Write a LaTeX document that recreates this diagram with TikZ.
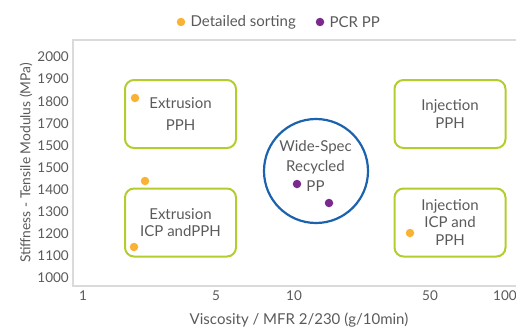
\documentclass[tikz,border=0pt]{standalone}
\usepackage{fontspec}
\setmainfont{Lato}
\usepackage{xcolor}
\usetikzlibrary{positioning}
\definecolor{textc}{HTML}{5A5A5A}
\definecolor{framec}{HTML}{DADADA}
\definecolor{limec}{HTML}{B5CC2E}
\definecolor{bluec}{HTML}{1B63AE}
\definecolor{sortc}{HTML}{F9B233}
\definecolor{pcrc}{HTML}{7A2A8C}
\tikzset{
  labeltext/.style={text=textc, font=\fontsize{15}{18}\selectfont, inner sep=0pt},
  ticktext/.style={labeltext, font=\fontsize{13.5}{16}\selectfont},
  areabox/.style={rectangle, rounded corners=9pt, draw=limec, line width=2pt,
    minimum width=111pt, minimum height=68pt, align=center, text=textc,
    font=\fontsize{15}{18}\selectfont},
  widecircle/.style={circle, draw=bluec, line width=2.2pt, minimum size=104pt},
  sortdot/.style={circle, fill=sortc, inner sep=0pt, minimum size=8.5pt},
  pcrdot/.style={circle, fill=pcrc, inner sep=0pt, minimum size=8.5pt},
  axisline/.style={draw=framec, line width=1.2pt},
}
\begin{document}
\begin{tikzpicture}[x=1pt, y=-1pt]
  \useasboundingbox (0,0) rectangle (516,329);
  % legend
  \node[sortdot] (legsort) at (181,22) {};
  \node[labeltext, anchor=west, right=5pt of legsort] (legsorttxt) {Detailed sorting};
  \node[pcrdot] (legpcr) at (320,22) {};
  \node[labeltext, anchor=west, right=5pt of legpcr] (legpcrtxt) {PCR PP};
  % frame
  \coordinate (topright) at (516,40);
  \coordinate (origin) at (73,286);
  \coordinate (axisend) at (516,286);
  \draw[axisline] (topright) -- (73,40) -- (origin) -- (axisend);
  % y ticks
  \foreach \lbl [count=\i from 0] in {2000,1900,1800,1700,1500,1500,1400,1300,1200,1100,1000}
    \node[ticktext, anchor=east] (ytick\i) at (69,57+22.1*\i) {\lbl};
  % x ticks
  \node[ticktext] (xtick1) at (83,296) {1};
  \node[ticktext] (xtick5) at (216,296) {5};
  \node[ticktext] (xtick10) at (294,296) {10};
  \node[ticktext] (xtick50) at (430,296) {50};
  \node[ticktext, anchor=west] (xtick100) at (493,296) {100};
  % axis titles
  \node[labeltext, rotate=90, font=\fontsize{13.8}{16}\selectfont] (ytitle) at (26,163) {Stiffness - Tensile Modulus (MPa)};
  \node[labeltext] (xtitle) at (299,320) {Viscosity / MFR 2/230 (g/10min)};
  % application areas
  \node[areabox, font=\fontsize{15}{22}\selectfont] (extpph) at (180.5,114) {Extrusion\\PPH};
  \node[areabox, font=\fontsize{15}{17}\selectfont] (exticp) at (180.5,222.5) {Extrusion\\ICP andPPH};
  \node[areabox] (injpph) at (450,114) {Injection\\PPH};
  \node[areabox, font=\fontsize{15}{17.5}\selectfont] (injicp) at (450,222.5) {Injection\\ICP and\\PPH};
  \node[widecircle] (widespec) at (316,171) {};
  \node[labeltext, align=center, font=\fontsize{15}{20}\selectfont] (widetxt) at (315.5,166) {Wide-Spec\\Recycled\\PP};
  % samples
  \node[sortdot] (s1) at (135,98) {};
  \node[sortdot] (s2) at (145,181) {};
  \node[sortdot] (s3) at (134,247) {};
  \node[sortdot] (s4) at (410,233) {};
  \node[pcrdot] (p1) at (297,184) {};
  \node[pcrdot] (p2) at (329,203) {};
\end{tikzpicture}
\end{document}
